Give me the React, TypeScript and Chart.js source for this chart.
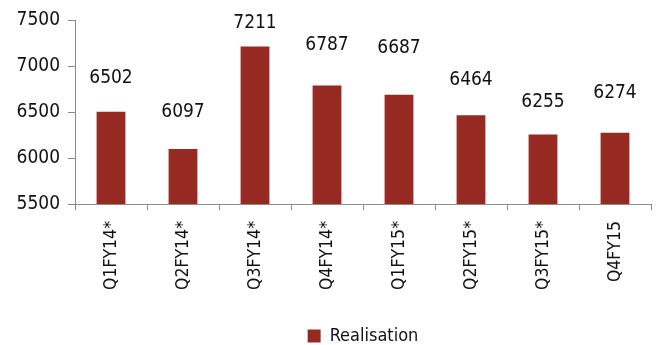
import React, { useEffect, useRef } from "react";
import { Chart, registerables } from "chart.js";

Chart.register(...registerables);

const quarters = ["Q1FY14*", "Q2FY14*", "Q3FY14*", "Q4FY14*", "Q1FY15*", "Q2FY15*", "Q3FY15*", "Q4FY15"];
const realisation = [6502, 6097, 7211, 6787, 6687, 6464, 6255, 6274];
const yTicks = [5500, 6000, 6500, 7000, 7500];
// How far above each bar top its value label sits (px)
const labelLift = [34, 37, 24, 41, 47, 35, 32, 40];

const FAMILY = "'DejaVu Sans Condensed', 'DejaVu Sans', sans-serif";
const BAR = "#962A22";
const INK = "#111111";
const AXIS = "#8a8a8a";

// Writes each bar's value above it
const valueLabels = {
  id: "valueLabels",
  afterDatasetsDraw(chart: any) {
    const { ctx } = chart;
    const meta = chart.getDatasetMeta(0);
    const data = chart.data.datasets[0].data as number[];
    ctx.save();
    ctx.font = `19px ${FAMILY}`;
    ctx.fillStyle = INK;
    ctx.textAlign = "center";
    ctx.textBaseline = "middle";
    meta.data.forEach((bar: any, i: number) => {
      ctx.fillText(String(data[i]), bar.x, bar.y - labelLift[i]);
    });
    ctx.restore();
  },
};

export default function App() {
  const ref = useRef<HTMLCanvasElement>(null);

  useEffect(() => {
    const chart = new Chart(ref.current!, {
      type: "bar",
      data: {
        labels: quarters,
        datasets: [
          {
            label: "Realisation",
            data: realisation,
            backgroundColor: BAR,
            borderWidth: 0,
            barPercentage: 0.4,
            categoryPercentage: 1,
          },
        ],
      },
      options: {
        responsive: false,
        animation: false,
        layout: { padding: { top: 20, right: 8, left: 0, bottom: -10 } },
        plugins: {
          tooltip: { enabled: false },
          legend: {
            position: "bottom",
            fullSize: false,
            labels: {
              boxWidth: 13,
              boxHeight: 13,
              padding: 0,
              color: INK,
              font: { family: FAMILY, size: 18 },
            },
          },
        },
        scales: {
          x: {
            grid: { drawOnChartArea: false, color: AXIS, tickLength: 6, offset: true },
            border: { color: AXIS, width: 1 },
            ticks: {
              color: INK,
              font: { family: FAMILY, size: 17.5 },
              minRotation: 90,
              maxRotation: 90,
              padding: 11,
            },
            afterFit(scale: any) {
              scale.height = 123;
            },
          },
          y: {
            min: 5500,
            max: 7500,
            afterBuildTicks(scale: any) {
              scale.ticks = yTicks.map((v) => ({ value: v }));
            },
            grid: { drawOnChartArea: false, color: AXIS, tickLength: 7 },
            border: { color: AXIS, width: 1 },
            ticks: {
              color: INK,
              font: { family: FAMILY, size: 19 },
              padding: 8,
              callback: (v: any) => String(v),
            },
            afterFit(scale: any) {
              scale.width = 75;
            },
          },
        },
      },
      plugins: [valueLabels],
    });
    return () => chart.destroy();
  }, []);

  return (
    <div style={{ position: "fixed", left: 0, top: 0, width: 659, height: 345, background: "#fff" }}>
      <canvas ref={ref} width={659} height={345} />
    </div>
  );
}
